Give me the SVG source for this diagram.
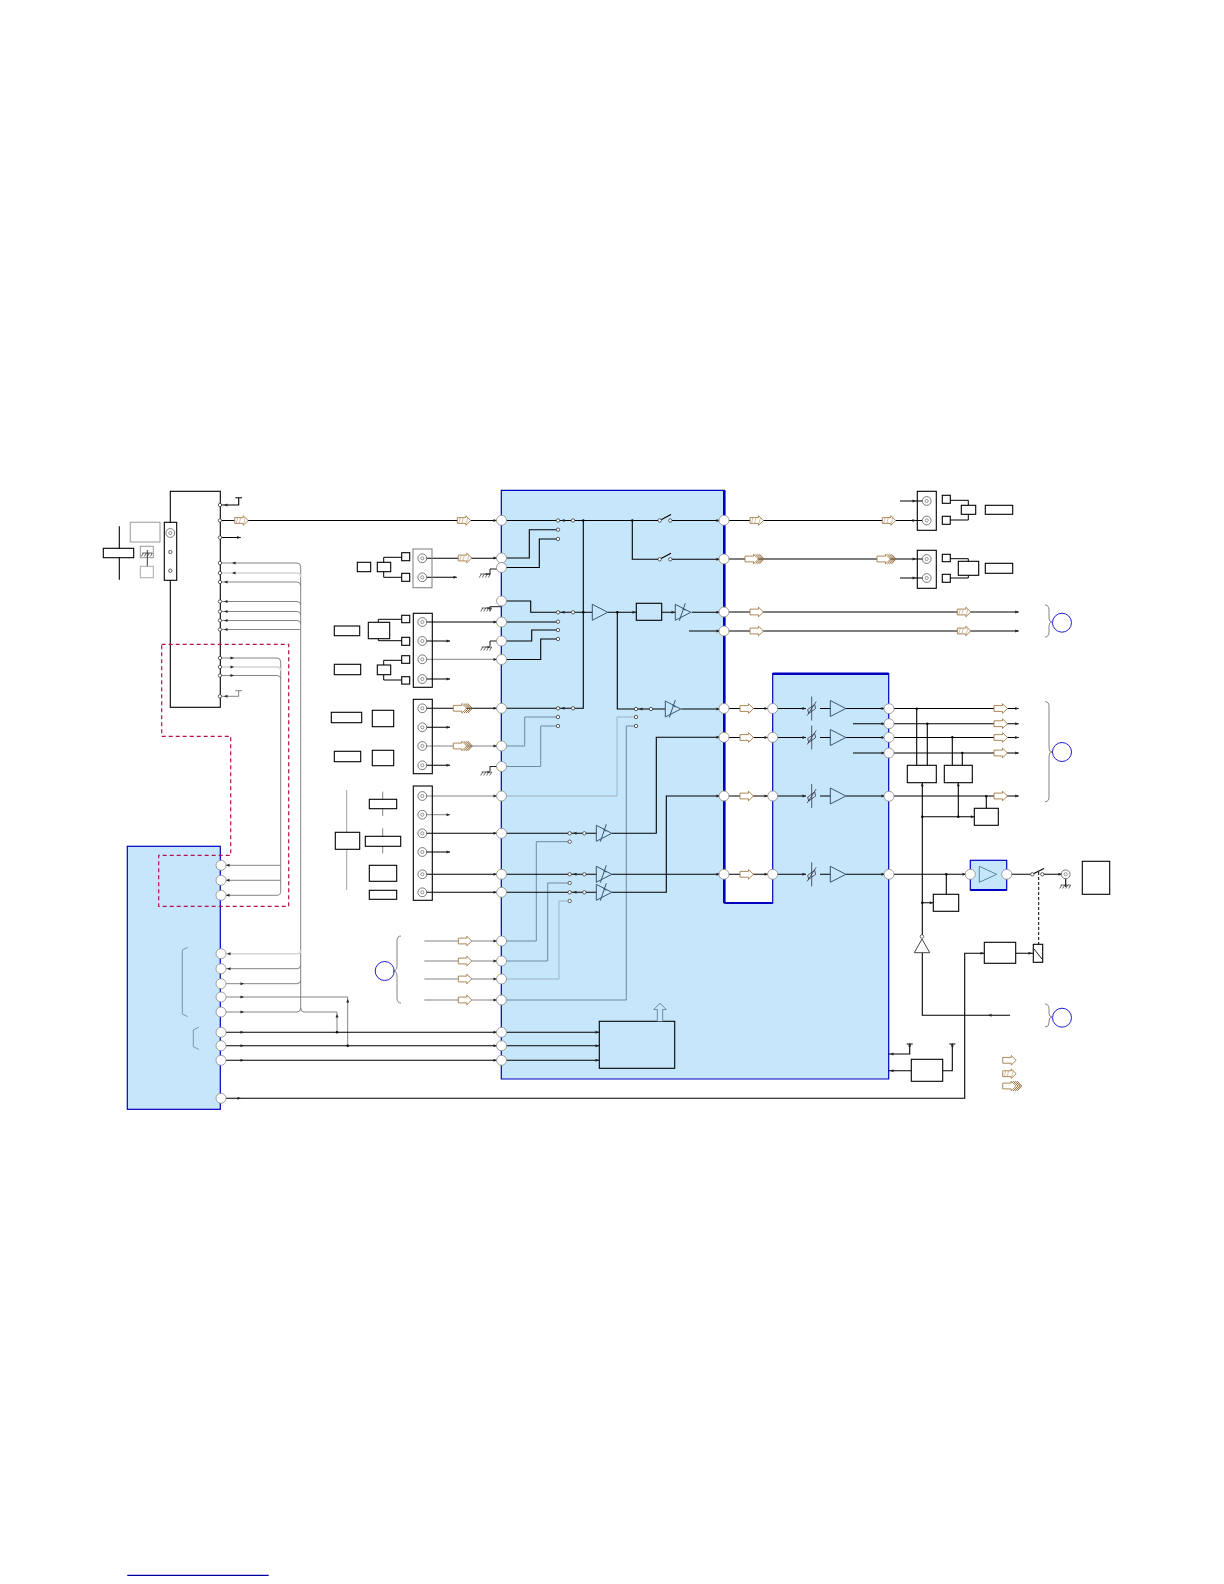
<svg xmlns="http://www.w3.org/2000/svg" xmlns:xlink="http://www.w3.org/1999/xlink" width="1224" height="1584" viewBox="0 0 1224 1584">
<style>
.box{fill:none;stroke:#000;stroke-width:1.1}
.wbox{fill:#fff;stroke:#000;stroke-width:1.1}
.c{fill:none;stroke:#000;stroke-width:1.1}
.g{fill:none;stroke:#777;stroke-width:.9}
.gl{fill:none;stroke:#d4d4d4;stroke-width:1.6}
.gb{fill:none;stroke:#6f8ba0;stroke-width:1}
.chip{fill:#c6e6fb;stroke:#0000c0;stroke-width:1.2}
.thick{fill:none;stroke:#0000c0;stroke-width:2.6}
.brace{fill:none;stroke:#777;stroke-width:.9}
.ring{fill:none;stroke:#2020d0;stroke-width:1}
.tri{fill:none;stroke:#2c4660;stroke-width:.9}
.dash{fill:none;stroke:#b5104f;stroke-width:1.2;stroke-dasharray:4 3}
</style>
<defs>
<circle id="pin" r="5" fill="#fff" stroke="#888" stroke-width=".8"/>
<circle id="sn" r="1.7" fill="#fff" stroke="#222" stroke-width=".7"/>
<g id="jack"><circle r="4.4" fill="#fff" stroke="#444" stroke-width=".7"/><circle r="1.6" fill="none" stroke="#555" stroke-width=".6"/></g>
<polygon id="ar" points="-3.5,-1.5 0,0 -3.5,1.5" fill="#222"/>
<polygon id="al" points="3.5,-1.5 0,0 3.5,1.5" fill="#222"/>
<polygon id="au" points="-1.5,3.5 0,0 1.5,3.5" fill="#222"/>
<circle id="dot" r="1.2" fill="#000"/>
<path id="gnd" d="M-5,0H5M-4,0L-6,3.5M-1,0L-3,3.5M2,0L0,3.5M5,0L3,3.5" fill="none" stroke="#222" stroke-width=".7"/>
<path id="bA" d="M0,-2.9H8.5V-4.8L13.5,0L8.5,4.8V2.9H0Z" fill="#fff" stroke="#a57c45" stroke-width=".9"/>
<g id="bB"><path d="M0,-2.9H8.5V-4.8L13.5,0L8.5,4.8V2.9H0Z" fill="#fff" stroke="#a57c45" stroke-width=".9"/><path d="M3,-2.9L1.5,2.9M6,-2.9L4.5,2.9M10.5,-3L9,3" stroke="#b8966a" stroke-width=".6" fill="none"/></g>
<g id="bC"><path d="M0,-2.9H8.5V-4.8L13.5,0L8.5,4.8V2.9H0Z" fill="#fff" stroke="#a57c45" stroke-width=".9"/><path d="M10.5,-4.8L15.5,0L10.5,4.8M12.5,-4.8L17.5,0L12.5,4.8M14.5,-4.8L19,0L14.5,4.8" fill="none" stroke="#8f6a38" stroke-width="1"/></g>
<path id="tr" class="tri" d="M0,-8L15.5,0L0,8Z"/>
<g id="vtr"><path class="tri" d="M0,-8L15.5,0L0,8Z"/><path class="tri" d="M4,8.5L10,-9M7,-4L10,-2"/></g>
<path id="att" d="M0,-12V12M-4.5,7L4.5,-7M-4,1L3,-4M-3,5L4,0M-4,1L-3,5M3,-4L4,0" fill="none" stroke="#334" stroke-width=".8"/>
</defs>

<g id="chip-main">
<path class="chip" d="M501.3,490.3H724.3V903H772.7V673.7H888.7V1079H501.3Z"/>
<path class="thick" d="M724.3,490.3V903M772.7,673.7H888.7"/>
<path d="M724.3,903H772.7" stroke="#0000c0" stroke-width="1.8" fill="none"/>
</g>
<g id="chip-left"><rect class="chip" x="127.3" y="846.3" width="93" height="263"/>
<path class="brace" style="stroke:#6f8ba0" d="M187.7,947.3L182.3,950V1014L187.7,1016.7M198.7,1027.3L193.3,1030V1046.7L198.7,1049.3"/></g>
<g id="amp-block"><rect x="970.3" y="860.3" width="36.4" height="29.7" fill="#c6e6fb" stroke="#0000c0" stroke-width="1.2"/><path d="M970.3,890H1006.7" stroke="#0000c0" stroke-width="2.2"/></g>

<g id="tuner">
<rect class="box" x="170.3" y="491.3" width="50" height="216"/>
<rect class="wbox" x="164.3" y="522.3" width="12.4" height="58"/>
<use href="#jack" x="170.3" y="533"/><use href="#sn" x="170.3" y="552"/><use href="#sn" x="170.3" y="570.7"/>
<rect x="130.3" y="522.3" width="29.7" height="19.7" fill="none" stroke="#aaa" stroke-width="1.2"/>
<path class="c" d="M119.3,526.3V579.7"/>
<rect class="wbox" x="103.3" y="548.3" width="30.4" height="9.4"/>
<rect x="140.3" y="546.3" width="13" height="11.4" fill="none" stroke="#999" stroke-width="1"/>
<use href="#gnd" x="147.3" y="553"/>
<path d="M147.3,550V566.3" class="g" style="stroke:#222"/>
<rect x="140.3" y="566.3" width="13" height="11.4" fill="none" stroke="#aaa" stroke-width="1"/>
</g>

<g id="dashed-region"><path class="dash" d="M161.7,644.3H288.7V906.3H158.7V855.3H230.7V736.3H161.7Z"/></g>

<g id="connectors">
<path class="c" d="M220,505H238.7V497.7M235.3,497.7H242M220,537.5H240.7M220,520.5H659.7M670.3,520.5H724"/>
<path class="g" d="M220,696.3H238.7V690.7M235.3,690.7H242"/>
<path class="g" d="M300.7,567V1008M220,563H297Q300.7,563 300.7,567M220,601.5H297Q300.7,601.5 300.7,605M220,611.5H297Q300.7,611.5 300.7,615M220,620.5H297Q300.7,620.5 300.7,624M220,629.5H300.7"/>
<path class="gl" d="M220,573H297Q300.7,573 300.7,577"/>
<path class="g" d="M220,582H297Q300.7,582 300.7,586"/>
<path class="g" d="M280.7,662V891M220,658H277Q280.7,658 280.7,662M220,675.5H277Q280.7,675.5 280.7,679"/>
<path class="gl" d="M220,667H277Q280.7,667 280.7,671"/>
<path class="g" d="M221,865.3H280.7M221,880.3H280.7M221,895.3H277Q280.7,895.3 280.7,891"/>
<path class="gl" d="M221,953.7H297Q300.7,953.7 300.7,950"/>
<path class="g" d="M221,968.7H297Q300.7,968.7 300.7,965M221,983.7H297Q300.7,983.7 300.7,980M221,997H347.7V1045.7M221,1012H297Q300.7,1012 300.7,1008M300.7,1008Q300.7,1012 304,1012H337V1032.3"/>
<path class="c" d="M221,1032.3H599.3M221,1045.7H599.3M221,1060.3H599.3M221,1098.3H964.7V953.3H984.3"/>
<path class="c" d="M422.3,558.3H501M422.3,577.3H456.7M422.3,622H501M422.3,641H450M422.3,679H450M422.3,708.3H501M422.3,727.3H450M422.3,765.3H450M422.3,833.3H501M422.3,852H450M422.3,874.3H501M422.3,892.3H501"/>
<path class="g" d="M422.3,659.3H501M422.3,746H501M422.3,796H501M422.3,814.7H450"/>
<path class="g" d="M424.3,941H501M424.3,961H501M424.3,979H501M424.3,1000H501"/>
<path class="c" style="stroke-width:.9" d="M501,569H490V574M501,606.7H490V611M501,641H490V646M501,766.5H490V771"/>
<path class="c" d="M501,558H529.3V529.7H558M501,567.5H539.3V539H558"/>
<path class="c" d="M501,601H530.7V612.3H592.3M607.7,612.3H636.3M661.7,612.3H675.3M691.7,612.3H724M501,622H558M501,641H531.7V630H558M501,659.5H540.7V639H558"/>
<path class="c" d="M501,708.3H583.3V520.5M632.3,520.5V559.3H659.7M670.3,559.3H724"/>
<path class="c" d="M617.3,612.3V709H665.3M681.3,709H724"/>
<path class="gb" d="M501,746H524.7V717H558M501,766.5H540.7V726H558M501,941H536.3V841.7H569.7M501,961H547.7V883H569.7M501,1000H626.3V726H636"/>
<path class="gb" style="stroke:#9fb4c4" d="M501,796H617V717H636M501,979H559V901H569.7"/>
<path class="c" d="M501,833.3H596.3M612,833.3H656.3V737.3H724"/>
<path class="c" d="M501,874.3H596.3M612,874.3H724"/>
<path class="c" d="M501,892.3H596.3M612,892.3H666.3V796H724"/>
<path class="c" d="M689,631H724"/>
<path class="c" d="M659.7,520.5L671,514.5M659.7,559.3L671,553.3"/>
<path class="c" d="M724,708.5H806M820,708.5H830.3M846,708.5H1018.7M724,737.5H806M820,737.5H830.3M846,737.5H1018.7M724,796H806M820,796H830.3M846,796H1018.7M724,874.3H806M820,874.3H830.3M846,874.3H970.3M853,723.7H1018.7M853,753H1018.7"/>
<path class="c" d="M724,612H1018.7M724,631H1018.7M724,520.5H926.7M724,559H926.7M900,501H926.7M900,578H926.7"/>
<path class="c" d="M916.7,708.7V765.3M927.3,723.7V765.3M952.3,737.3V765.3M962.3,753V765.3M922.3,782.7V935M958.3,782.7V816.7M922.3,816.7H974.3M986.3,796.3V808.3M946.3,874.3V894.3M922.3,902.7H933.3M922.3,952.7V1015.3H1010"/>
<path class="c" d="M1006.7,874.3H1032.3M1042.3,874.3H1065.7M1032.3,874.3L1044,868.5M1015.7,953.3H1033.3"/>
<path d="M1038.7,872V944.3" fill="none" stroke="#000" stroke-width="1" stroke-dasharray="3 2"/>
<path class="c" d="M1065.7,878V887"/>
<path class="c" d="M888.7,1054H909.7V1044M906.7,1044H912.7M888.7,1070.7H911.3M942.7,1070.7H952.3V1044M949.3,1044H955.3"/>
<g>
<use href="#al" x="224" y="505"/><use href="#ar" x="240.7" y="537.5"/><use href="#al" x="232" y="563"/><use href="#al" x="232" y="573"/><use href="#al" x="224" y="582"/><use href="#al" x="224" y="601.5"/><use href="#al" x="224" y="611.5"/><use href="#al" x="224" y="620.5"/><use href="#al" x="224" y="629.5"/><use href="#ar" x="234" y="658"/><use href="#ar" x="234" y="667"/><use href="#ar" x="234" y="675.5"/><use href="#al" x="224" y="696.3"/>
<use href="#al" x="226" y="865.3"/><use href="#al" x="226" y="880.3"/><use href="#al" x="226" y="895.3"/><use href="#al" x="227" y="953.7"/><use href="#al" x="227" y="968.7"/>
<use href="#ar" x="244" y="983.7"/><use href="#ar" x="244" y="997"/><use href="#ar" x="244" y="1012"/><use href="#ar" x="244" y="1032.3"/><use href="#ar" x="244" y="1045.7"/><use href="#ar" x="244" y="1060.3"/><use href="#ar" x="241" y="1098.3"/>
<use href="#au" x="347.7" y="999"/><use href="#au" x="337" y="1014"/><use href="#dot" x="337" y="1032.3"/><use href="#dot" x="347.7" y="1045.7"/>
<use href="#ar" x="457" y="577.3"/><use href="#ar" x="450" y="641"/><use href="#ar" x="450" y="679"/><use href="#ar" x="450" y="727.3"/><use href="#ar" x="450" y="765.3"/><use href="#ar" x="450" y="814.7"/><use href="#ar" x="450" y="852"/>
<use href="#ar" x="497" y="520.5"/><use href="#ar" x="497" y="558"/><use href="#ar" x="497" y="622"/><use href="#ar" x="497" y="659.5"/><use href="#ar" x="497" y="708.3"/><use href="#ar" x="497" y="746"/><use href="#ar" x="497" y="796"/><use href="#ar" x="497" y="833.3"/><use href="#ar" x="497" y="874.3"/><use href="#ar" x="497" y="892.3"/><use href="#ar" x="497" y="941"/><use href="#ar" x="497" y="961"/><use href="#ar" x="497" y="979"/><use href="#ar" x="497" y="1000"/><use href="#ar" x="497" y="1032.3"/><use href="#ar" x="497" y="1045.7"/><use href="#ar" x="497" y="1060.3"/>
<use href="#ar" x="599" y="1032.3"/><use href="#ar" x="599" y="1045.7"/><use href="#ar" x="599" y="1060.3"/>
<use href="#al" x="561" y="520.5"/><use href="#al" x="561" y="612.3"/><use href="#al" x="561" y="708.3"/><use href="#al" x="639" y="709"/><use href="#al" x="573" y="833.3"/><use href="#al" x="573" y="874.3"/><use href="#al" x="573" y="892.3"/>
<use href="#ar" x="636" y="612.3"/><use href="#ar" x="675" y="612.3"/>
<use href="#ar" x="720" y="520.5"/><use href="#ar" x="720" y="559.3"/><use href="#ar" x="720" y="612.3"/><use href="#ar" x="720" y="631"/><use href="#ar" x="720" y="709"/><use href="#ar" x="720" y="737.3"/><use href="#ar" x="720" y="796"/><use href="#ar" x="720" y="874.3"/>
<use href="#ar" x="768" y="708.5"/><use href="#ar" x="768" y="737.5"/><use href="#ar" x="768" y="796"/><use href="#ar" x="768" y="874.3"/><use href="#ar" x="806" y="708.5"/><use href="#ar" x="806" y="737.5"/><use href="#ar" x="806" y="796"/><use href="#ar" x="806" y="874.3"/>
<use href="#ar" x="885" y="708.5"/><use href="#ar" x="885" y="723.7"/><use href="#ar" x="885" y="737.5"/><use href="#ar" x="885" y="753"/><use href="#ar" x="885" y="796"/><use href="#ar" x="885" y="874.3"/>
<use href="#ar" x="1018.7" y="612"/><use href="#ar" x="1018.7" y="631"/><use href="#ar" x="1018.7" y="708.5"/><use href="#ar" x="1018.7" y="723.7"/><use href="#ar" x="1018.7" y="737.5"/><use href="#ar" x="1018.7" y="753"/><use href="#ar" x="1018.7" y="796"/>
<use href="#ar" x="916" y="501"/><use href="#ar" x="916" y="520.5"/><use href="#ar" x="916" y="559"/><use href="#ar" x="916" y="578"/>
<use href="#dot" x="583.3" y="520.5"/><use href="#dot" x="632.3" y="520.5"/><use href="#dot" x="583.3" y="612.3"/><use href="#dot" x="617.3" y="612.3"/><use href="#dot" x="916.7" y="708.7"/><use href="#dot" x="927.3" y="723.7"/><use href="#dot" x="952.3" y="737.3"/><use href="#dot" x="962.3" y="753"/><use href="#dot" x="986.3" y="796.3"/><use href="#dot" x="946.3" y="874.3"/><use href="#dot" x="922.3" y="816.7"/><use href="#dot" x="958.3" y="816.7"/><use href="#dot" x="922.3" y="902.7"/>
<use href="#au" x="922.3" y="782.7"/><use href="#au" x="958.3" y="782.7"/><use href="#ar" x="974.3" y="816.7"/><use href="#ar" x="933.3" y="902.7"/><use href="#ar" x="966" y="874.3"/><use href="#ar" x="1032" y="953.3"/><use href="#ar" x="984" y="953.3"/><use href="#ar" x="1062" y="874.3"/><use href="#al" x="988" y="1015.3"/><use href="#al" x="890" y="1054"/><use href="#al" x="890" y="1070.7"/><use href="#au" x="909.7" y="1043"/><use href="#au" x="952.3" y="1043"/>
</g>
</g>

<g id="symbols">
<path class="tri" d="M592.3,604.3L607.7,612.3L592.3,620.3Z"/>
<use href="#vtr" x="675.3" y="612.3"/><use href="#vtr" x="665.3" y="709"/><use href="#vtr" x="596.3" y="833.3"/><use href="#vtr" x="596.3" y="874.3"/><use href="#vtr" x="596.3" y="892.3"/>
<use href="#att" x="811.7" y="708.5"/><use href="#att" x="811.7" y="737.5"/><use href="#att" x="811.7" y="796"/><use href="#att" x="811.7" y="874.3"/>
<use href="#tr" x="830.3" y="708.5"/><use href="#tr" x="830.3" y="737.5"/><use href="#tr" x="830.3" y="796"/><use href="#tr" x="830.3" y="874.3"/>
<path class="tri" d="M979.3,866.3L996.7,874.3L979.3,882.3Z" style="stroke:#4a7a8a"/>
<use href="#sn" x="558" y="520.5"/><use href="#sn" x="573" y="520.5"/><use href="#sn" x="558" y="529.7"/><use href="#sn" x="558" y="539"/><use href="#sn" x="558" y="612.3"/><use href="#sn" x="573" y="612.3"/><use href="#sn" x="558" y="621.7"/><use href="#sn" x="558" y="630"/><use href="#sn" x="558" y="639"/><use href="#sn" x="558" y="708.3"/><use href="#sn" x="573" y="708.3"/><use href="#sn" x="558" y="717"/><use href="#sn" x="558" y="726"/>
<use href="#sn" x="636" y="709"/><use href="#sn" x="651" y="709"/><use href="#sn" x="636" y="717"/><use href="#sn" x="636" y="726"/>
<use href="#sn" x="569.7" y="833.3"/><use href="#sn" x="584.3" y="833.3"/><use href="#sn" x="569.7" y="841.7"/><use href="#sn" x="569.7" y="874.3"/><use href="#sn" x="584.3" y="874.3"/><use href="#sn" x="569.7" y="883"/><use href="#sn" x="569.7" y="892.3"/><use href="#sn" x="584.3" y="892.3"/><use href="#sn" x="569.7" y="901"/>
<use href="#sn" x="659.7" y="520.5"/><use href="#sn" x="670.3" y="520.5"/><use href="#sn" x="659.7" y="559.3"/><use href="#sn" x="670.3" y="559.3"/><use href="#sn" x="1032.3" y="874.3"/><use href="#sn" x="1042.3" y="874.3"/>
<use href="#gnd" x="485.3" y="574"/><use href="#gnd" x="486.7" y="608"/><use href="#gnd" x="486.7" y="647"/><use href="#gnd" x="486.7" y="772"/><use href="#gnd" x="1065.7" y="885"/>
<path class="c" style="stroke-width:.9" d="M485.3,574H490M486.7,608H490M486.7,647H490M486.7,772H490"/>
</g>

<g id="conn-a"><rect x="413" y="549" width="19" height="38.7" fill="none" stroke="#888" stroke-width="1.1"/><use href="#jack" x="422.3" y="558.3"/><use href="#jack" x="422.3" y="577.3"/>
<rect class="box" x="401.7" y="552.7" width="8" height="8"/><rect class="box" x="401.7" y="573.3" width="8" height="8"/>
<rect class="box" x="377.3" y="562.3" width="13.4" height="9.4"/><rect class="box" x="357.3" y="562.3" width="13.4" height="9.4"/>
<path class="c" style="stroke-width:1" d="M401.7,557.3H383.7V562.3M383.7,571.7V577.3H401.7"/></g>
<g id="conn-b"><rect class="box" x="413.3" y="613.3" width="19" height="74"/><use href="#jack" x="422.3" y="622"/><use href="#jack" x="422.3" y="641"/><use href="#jack" x="422.3" y="659.3"/><use href="#jack" x="422.3" y="679"/>
<rect class="box" x="401.7" y="615.3" width="8" height="7.4"/><rect class="box" x="401.7" y="637.3" width="8" height="8"/><rect class="box" x="401.7" y="655.7" width="8" height="7.6"/><rect class="box" x="401.7" y="676.7" width="8" height="7.4"/>
<rect class="box" x="368.3" y="622.3" width="21.4" height="16.4"/><rect class="box" x="377.3" y="665" width="13.4" height="9.7"/>
<rect class="box" x="334.3" y="626" width="25.4" height="9.7"/><rect class="box" x="334.3" y="664.3" width="26.4" height="10.4"/>
<path class="c" style="stroke-width:1" d="M401.7,619.3H378.3V622.3M378.3,638.7V640.7H401.7M401.7,660.3H383.7V665M383.7,674.7V680H401.7"/></g>
<g id="conn-c"><rect class="box" x="413.3" y="699.3" width="19" height="74.4"/><use href="#jack" x="422.3" y="708.3"/><use href="#jack" x="422.3" y="727.3"/><use href="#jack" x="422.3" y="746"/><use href="#jack" x="422.3" y="765.3"/>
<rect class="box" x="331.3" y="712.3" width="30.4" height="10.4"/><rect class="box" x="372.3" y="710.3" width="21.4" height="16.4"/><rect class="box" x="334.3" y="751.3" width="26.4" height="10.4"/><rect class="box" x="372.3" y="750.3" width="21.4" height="15.4"/></g>
<g id="conn-d"><rect class="box" x="413.3" y="786" width="19" height="114.3"/><use href="#jack" x="422.3" y="796"/><use href="#jack" x="422.3" y="814.7"/><use href="#jack" x="422.3" y="833.3"/><use href="#jack" x="422.3" y="852"/><use href="#jack" x="422.3" y="874.3"/><use href="#jack" x="422.3" y="892.3"/>
<path class="g" style="stroke:#aaa;stroke-width:1.1" d="M346.7,790V890"/>
<rect class="wbox" x="335.3" y="832.3" width="24.4" height="17"/>
<path class="g" d="M382.7,791.7V799.3M382.7,808.7V816M382.7,828.3V836.3M382.7,846.3V853.3"/>
<rect class="box" x="369.3" y="799.3" width="27.4" height="9.4"/><rect class="box" x="365.3" y="836.3" width="35.4" height="10"/><rect class="box" x="369.3" y="865.3" width="27.4" height="16"/><rect class="box" x="369.3" y="890.3" width="27.4" height="9"/></g>

<g id="block-dsp"><rect class="box" x="636.3" y="603.3" width="25.4" height="17"/></g>
<g id="block-ctrl"><rect class="box" x="599.3" y="1021.3" width="75.4" height="47"/>
<path fill="#c6e6fb" stroke="#6f8ba0" stroke-width="1" d="M657.3,1021.3V1009.5H653.7L660,1003.3L666.3,1009.5H662.7V1021.3"/></g>

<g id="out-conn-1"><rect class="box" x="917.3" y="491.3" width="19" height="39"/><use href="#jack" x="926.7" y="501"/><use href="#jack" x="926.7" y="520.5"/>
<rect class="box" x="942.3" y="495.3" width="8" height="8"/><rect class="box" x="942.3" y="516.3" width="8" height="8"/><rect class="box" x="961.3" y="505.3" width="14.4" height="9"/><rect class="box" x="985.3" y="505.3" width="27.4" height="9"/>
<path class="c" style="stroke-width:1" d="M950.3,500.3H968.3V505.3M968.3,514.3V520H950.3"/></g>
<g id="out-conn-2"><rect class="box" x="917.3" y="550.3" width="19" height="38"/><use href="#jack" x="926.7" y="559"/><use href="#jack" x="926.7" y="578"/>
<rect class="box" x="942.3" y="554.3" width="8" height="7.4"/><rect class="box" x="942.3" y="574.3" width="8" height="8"/><rect class="box" x="958.3" y="561.3" width="20.4" height="14"/><rect class="box" x="985.3" y="563.3" width="27.4" height="10"/>
<path class="c" style="stroke-width:1" d="M950.3,558.7H968.3V561.3M968.3,575.3V578H950.3"/></g>
<g id="block-r1"><rect class="wbox" x="907.3" y="765.3" width="29" height="17.4"/></g>
<g id="block-r2"><rect class="wbox" x="944.3" y="765.3" width="28" height="17.4"/></g>
<g id="block-r3"><rect class="wbox" x="974.3" y="808.3" width="24" height="17"/></g>
<g id="block-r4"><rect class="wbox" x="933.3" y="894.3" width="25.4" height="17"/></g>
<g id="block-r5"><rect class="wbox" x="984.3" y="942.3" width="31.4" height="21"/></g>
<g id="relay"><rect class="wbox" x="1033.3" y="944.3" width="9.4" height="18"/><path d="M1034,949L1042,959" stroke="#000" stroke-width=".9"/></g>
<g id="block-r6"><rect class="wbox" x="911.3" y="1059.3" width="31.4" height="22"/></g>
<g id="block-r7"><rect class="wbox" x="1082.3" y="861.3" width="27.4" height="33"/></g>
<g id="inverter"><path d="M922,939L929.7,952.7H914.3Z" fill="#fff" stroke="#333" stroke-width=".9"/><circle cx="922" cy="936.5" r="1.8" fill="#fff" stroke="#333" stroke-width=".7"/></g>
<use href="#jack" x="1065.7" y="874.3"/>

<g id="pins">
<use href="#pin" x="221" y="865.3"/><use href="#pin" x="221" y="880.3"/><use href="#pin" x="221" y="895.3"/><use href="#pin" x="221" y="953.7"/><use href="#pin" x="221" y="968.7"/><use href="#pin" x="221" y="983.7"/><use href="#pin" x="221" y="997"/><use href="#pin" x="221" y="1012"/><use href="#pin" x="221" y="1032.3"/><use href="#pin" x="221" y="1045.7"/><use href="#pin" x="221" y="1060.3"/><use href="#pin" x="221" y="1098.3"/>
<use href="#pin" x="501.5" y="520.3"/><use href="#pin" x="501.5" y="558"/><use href="#pin" x="501.5" y="567.5"/><use href="#pin" x="501.5" y="601"/><use href="#pin" x="501.5" y="622"/><use href="#pin" x="501.5" y="641"/><use href="#pin" x="501.5" y="659.5"/><use href="#pin" x="501.5" y="708.3"/><use href="#pin" x="501.5" y="746"/><use href="#pin" x="501.5" y="766.5"/><use href="#pin" x="501.5" y="796"/><use href="#pin" x="501.5" y="833.3"/><use href="#pin" x="501.5" y="874.3"/><use href="#pin" x="501.5" y="892.3"/><use href="#pin" x="501.5" y="941"/><use href="#pin" x="501.5" y="961"/><use href="#pin" x="501.5" y="979"/><use href="#pin" x="501.5" y="1000"/><use href="#pin" x="501.5" y="1032.3"/><use href="#pin" x="501.5" y="1045.7"/><use href="#pin" x="501.5" y="1060.3"/>
<use href="#pin" x="724" y="520.3"/><use href="#pin" x="724" y="559"/><use href="#pin" x="724" y="612"/><use href="#pin" x="724" y="631"/><use href="#pin" x="724" y="708.5"/><use href="#pin" x="724" y="737.3"/><use href="#pin" x="724" y="796"/><use href="#pin" x="724" y="874.3"/>
<use href="#pin" x="772.7" y="708.5"/><use href="#pin" x="772.7" y="737.3"/><use href="#pin" x="772.7" y="796"/><use href="#pin" x="772.7" y="874.3"/>
<use href="#pin" x="889" y="708.7"/><use href="#pin" x="889" y="723.7"/><use href="#pin" x="889" y="737.3"/><use href="#pin" x="889" y="753"/><use href="#pin" x="889" y="796.3"/><use href="#pin" x="889" y="874.3"/>
<use href="#pin" x="970.3" y="874.3"/><use href="#pin" x="1006.7" y="874.3"/>
<use href="#sn" x="220" y="505"/><use href="#sn" x="220" y="520.5"/><use href="#sn" x="220" y="537.5"/><use href="#sn" x="220" y="563"/><use href="#sn" x="220" y="573"/><use href="#sn" x="220" y="582"/><use href="#sn" x="220" y="601.5"/><use href="#sn" x="220" y="611.5"/><use href="#sn" x="220" y="620.5"/><use href="#sn" x="220" y="629.5"/><use href="#sn" x="220" y="658"/><use href="#sn" x="220" y="667"/><use href="#sn" x="220" y="675.5"/><use href="#sn" x="220" y="696.3"/>
</g>

<g id="signal-arrows">
<use href="#bB" x="234.7" y="520.5"/><use href="#bB" x="457.3" y="520.5"/><use href="#bB" x="458.3" y="558"/><use href="#bC" x="453.3" y="708.3"/><use href="#bC" x="453.3" y="746"/>
<use href="#bA" x="458.3" y="941"/><use href="#bA" x="458.3" y="961"/><use href="#bA" x="458.3" y="979"/><use href="#bA" x="458.3" y="1000"/>
<use href="#bB" x="750" y="520.5"/><use href="#bB" x="882.3" y="520.5"/><use href="#bC" x="745" y="559"/><use href="#bC" x="877" y="559"/>
<use href="#bA" x="750" y="612"/><use href="#bA" x="750" y="631"/><use href="#bB" x="957.3" y="612"/><use href="#bB" x="957.3" y="631"/>
<use href="#bA" x="740" y="708.5"/><use href="#bA" x="740" y="737.5"/><use href="#bA" x="740" y="796"/><use href="#bA" x="740" y="874.3"/>
<use href="#bA" x="994" y="708.5"/><use href="#bA" x="994" y="723.7"/><use href="#bA" x="994" y="737.5"/><use href="#bA" x="994" y="753"/><use href="#bA" x="994" y="796"/>
<use href="#bA" x="1002.7" y="1060.3"/><use href="#bB" x="1002.7" y="1073.7"/><use href="#bC" x="1002.7" y="1086"/>
</g>

<g id="braces">
<path class="brace" d="M1045,605Q1049,605 1049,610V618Q1049,622 1052,622Q1049,622 1049,626V632Q1049,637 1045,637"/><circle class="ring" cx="1062" cy="622.7" r="9.5"/>
<path class="brace" d="M1045,701.7Q1049,701.7 1049,706V748Q1049,752 1052,752Q1049,752 1049,756V797Q1049,801.7 1045,801.7"/><circle class="ring" cx="1062" cy="752" r="9.5"/>
<path class="brace" d="M1045,1004Q1049,1004 1049,1009V1013Q1049,1017 1052,1017Q1049,1017 1049,1021V1023Q1049,1027 1045,1027"/><circle class="ring" cx="1062" cy="1017.7" r="9.5"/>
<path class="brace" d="M401,936Q397,936 397,941V966Q397,971 393,971Q397,971 397,976V998Q397,1003 401,1003"/><circle class="ring" cx="384.7" cy="971" r="9.5"/>
</g>
<g id="footer-rule"><path d="M127.3,1575.3H268.7" stroke="#0000a0" stroke-width="1.3"/></g>
</svg>
